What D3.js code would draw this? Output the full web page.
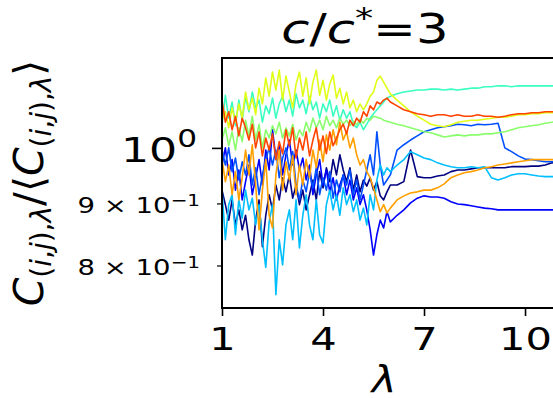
<!DOCTYPE html>
<html><head><meta charset="utf-8">
<script src="https://cdn.jsdelivr.net/npm/d3@7"></script>
<style>body{margin:0;background:#fff}svg{display:block}</style>
</head><body>
<svg id="c" width="553" height="398"></svg>
<script>
// ---- data ----
const lambda = [1.0,1.1,1.2,1.3,1.4,1.5,1.6,1.7,1.8,1.9,2.0,2.1,2.2,2.3,2.4,2.5,2.6,2.7,2.8,2.9,3.0,3.1,3.2,3.3,3.4,3.5,3.6,3.7,3.8,3.9,4.0,4.1,4.2,4.3,4.4,4.5,4.6,4.7,4.8,4.9,5.0,5.1,5.2,5.3,5.4,5.5,5.6,5.7,5.8,5.9,6.0,
  6.2,6.4,6.6,6.8,7.0,7.2,7.4,7.6,7.8,8.0,8.2,8.4,8.6,8.8,9.0,9.2,9.4,9.6,9.8,10.0,10.2,10.4,10.6,10.8,11.0];

const navy = [0.923,0.898,0.872,0.906,0.864,0.889,0.856,0.880,0.840,0.816,
  0.872,0.906,0.829,0.880,0.915,0.889,0.932,0.906,0.945,0.920,
  0.950,0.909,0.932,0.898,0.923,0.889,0.915,0.941,0.906,0.956,
  0.927,0.963,0.938,0.978,0.950,0.987,0.959,0.938,0.963,0.923,
  0.950,0.920,0.941,0.930,0.945,0.923,0.938,0.913,0.906,0.920,
  0.932,
  0.932,0.938,0.996,0.947,0.945,0.945,0.948,0.950,0.956,0.959,0.959,0.961,0.963,0.963,0.963,0.963,0.963,0.965,0.965,0.965,0.966,0.966,0.968,0.972,0.974];

const blue = [0.968,1.000,0.950,0.978,0.923,0.959,0.906,0.938,0.968,0.915,
  0.945,0.978,0.932,0.996,0.959,1.035,0.981,1.006,0.950,0.987,
  1.015,0.968,0.996,0.959,0.981,0.941,0.968,0.915,0.950,0.978,
  0.932,0.959,0.920,0.945,0.906,0.932,0.950,0.915,0.941,0.906,
  0.927,0.898,0.915,0.889,0.856,0.816,0.848,0.872,0.859,0.886,
  0.869,
  0.880,0.889,0.901,0.909,0.913,0.911,0.911,0.909,0.903,0.899,0.898,0.896,0.894,0.892,0.891,0.889,0.889,0.889,0.889,0.889,0.889,0.889,0.889,0.889,0.889];

const medBlue = [0.996,0.968,1.000,0.956,0.981,0.941,0.974,0.950,0.987,0.932,
  0.963,0.915,0.950,0.978,1.000,0.968,0.996,0.945,0.981,1.000,
  0.959,0.993,0.932,0.906,0.941,0.920,0.956,0.927,0.963,0.915,
  0.945,0.923,0.956,0.909,0.941,0.920,0.950,0.932,0.959,0.915,
  0.941,0.906,0.932,0.959,0.987,0.950,1.031,0.968,0.932,0.941,
  0.950,
  0.996,1.006,1.015,1.023,1.031,1.035,1.039,1.041,1.043,1.046,1.045,1.043,1.046,1.045,1.046,1.048,1.000,0.993,0.985,0.979,0.978,0.976,0.974,0.974,0.974];

const skyBlue = [0.923,0.840,0.898,0.915,0.848,0.906,0.875,0.923,0.889,0.909,
  0.864,0.898,0.840,0.797,0.869,0.898,0.757,0.840,0.801,0.864,
  0.889,0.840,0.906,0.827,0.880,0.915,0.864,0.840,0.906,0.848,
  0.835,0.898,0.923,0.889,0.915,0.880,0.927,0.898,0.915,0.886,
  0.906,0.872,0.892,0.864,0.915,0.889,0.941,0.968,0.950,0.963,
  0.956,
  0.968,0.978,0.993,0.987,0.981,0.978,0.972,0.968,0.965,0.963,0.963,0.965,0.963,0.965,0.945,0.941,0.945,0.950,0.952,0.952,0.950,0.948,0.947,0.947,0.947];

const aqua = [1.045,1.105,1.058,1.091,1.043,1.095,1.054,1.101,1.071,1.112,
  1.079,1.095,1.050,1.083,1.067,1.099,1.058,1.087,1.103,1.071,
  1.095,1.062,1.108,1.079,1.095,1.067,1.103,1.075,1.091,1.058,
  1.087,1.071,1.095,1.062,1.083,1.054,1.075,1.058,1.071,1.046,
  1.039,1.050,1.035,1.046,1.058,1.067,1.075,1.083,1.091,1.099,
  1.103,
  1.108,1.112,1.114,1.116,1.116,1.118,1.118,1.116,1.118,1.116,1.118,1.120,1.120,1.123,1.123,1.125,1.125,1.123,1.125,1.125,1.125,1.125,1.125,1.125,1.125];

const lightGreen = [1.015,1.039,1.004,1.031,0.996,1.039,1.012,1.054,1.023,1.062,
  1.015,1.046,1.000,1.035,1.019,1.043,1.027,1.050,1.019,1.039,
  1.023,1.046,1.015,1.035,1.023,1.050,1.031,1.058,1.039,1.054,
  1.035,1.062,1.043,1.054,1.039,1.058,1.046,1.054,1.043,1.052,
  1.045,1.056,1.048,1.058,1.054,1.062,1.060,1.058,1.054,1.052,
  1.050,
  1.046,1.043,1.039,1.035,1.031,1.029,1.025,1.021,1.023,1.025,1.023,1.025,1.025,1.027,1.027,1.029,1.031,1.035,1.039,1.041,1.043,1.045,1.048,1.050,1.052];

const yellow = [1.054,1.071,1.039,1.079,1.050,1.087,1.058,1.112,1.075,1.099,
  1.065,1.120,1.087,1.142,1.103,1.155,1.116,1.159,1.095,1.146,
  1.112,1.079,1.129,1.155,1.103,1.142,1.087,1.133,1.159,1.105,
  1.137,1.095,1.129,1.148,1.099,1.120,1.087,1.112,1.079,1.095,
  1.071,1.087,1.075,1.087,1.103,1.112,1.137,1.146,1.133,1.120,
  1.108,
  1.095,1.083,1.071,1.062,1.054,1.046,1.043,1.041,1.045,1.050,1.052,1.054,1.054,1.056,1.058,1.060,1.060,1.062,1.065,1.065,1.067,1.067,1.069,1.069,1.069];

const orange = [0.978,0.938,0.968,0.915,0.956,0.906,0.945,0.996,0.950,1.006,
  0.932,0.856,0.923,0.978,0.880,0.859,0.950,0.996,0.923,0.974,
  0.941,0.985,0.915,0.968,0.932,0.978,0.945,0.996,0.963,1.015,
  0.974,1.025,0.996,1.035,1.006,1.050,1.015,1.031,1.000,1.019,
  0.987,0.968,0.978,0.956,0.945,0.927,0.906,0.886,0.898,0.884,
  0.892,
  0.906,0.913,0.918,0.920,0.923,0.923,0.927,0.934,0.945,0.950,0.954,0.956,0.959,0.963,0.965,0.968,0.970,0.972,0.974,0.976,0.978,0.978,0.978,0.978,0.978];

const red = [1.095,1.050,1.071,1.035,1.062,1.023,1.058,1.039,1.015,1.046,
  1.000,1.031,0.985,1.019,0.996,1.027,0.978,1.012,0.989,1.035,
  1.004,1.039,0.981,1.019,0.996,1.031,0.985,1.015,1.039,0.996,
  1.023,0.989,1.031,1.004,1.019,1.035,1.046,1.027,1.054,1.043,
  1.058,1.050,1.071,1.062,1.083,1.075,1.091,1.087,1.095,1.099,
  1.091,
  1.083,1.075,1.071,1.067,1.065,1.062,1.065,1.065,1.062,1.065,1.062,1.062,1.065,1.062,1.062,1.060,1.062,1.065,1.067,1.067,1.069,1.069,1.071,1.071,1.071];

const seriesValues = [navy, blue, medBlue, skyBlue, aqua, lightGreen, yellow, orange, red];
const seriesColors = ["#000080","#0000ff","#0050ff","#00bfff","#3affc0","#8aff6c","#e0ff18","#ffa000","#ff4400"];
const xTicks = [1, 4, 7, 10];
const yMajorTicks = [1];
const yMinorTicks = [0.8, 0.9];

// ---- layout ----
const svg = d3.select("#c");
const L = 222, T = 58, B = 308, R = 558.7;
const x = d3.scaleLinear().domain([1, 11]).range([L, R]);
const y = d3.scaleLog().domain([0.738, 1.186]).range([B, T]);
const FONT = "DejaVu Sans, sans-serif";
const SX = 1.3; // horizontal stretch of the reference's horizontal texts

svg.append("defs").append("clipPath").attr("id", "clip")
  .append("rect").attr("x", L).attr("y", T).attr("width", R - L).attr("height", B - T);

const line = d3.line().x((d, i) => x(lambda[i])).y(d => y(d));
const gl = svg.append("g").attr("clip-path", "url(#clip)");
seriesValues.forEach((vals, k) => {
  gl.append("path").attr("d", line(vals)).attr("fill", "none")
    .attr("stroke", seriesColors[k]).attr("stroke-width", 1.6)
    .attr("stroke-linejoin", "round");
});

// spines
const sp = svg.append("g").attr("stroke", "#000").attr("stroke-width", 2).attr("fill", "none");
sp.append("line").attr("x1", L).attr("x2", L).attr("y1", T - 1).attr("y2", B + 1);
sp.append("line").attr("x1", L).attr("x2", R).attr("y1", T).attr("y2", T);
sp.append("line").attr("x1", L - 1).attr("x2", R).attr("y1", B).attr("y2", B);
sp.append("line").attr("x1", R).attr("x2", R).attr("y1", T).attr("y2", B);

// x axis
const xa = svg.append("g").attr("transform", `translate(0,${B})`)
  .call(d3.axisBottom(x).tickValues(xTicks).tickSize(8).tickSizeOuter(0).tickFormat(d3.format("d")));
xa.select(".domain").remove();
xa.selectAll(".tick line").attr("stroke-width", 1.6);
xa.selectAll(".tick text").attr("y", null).attr("dy", null)
  .attr("transform", `translate(0,42) scale(${SX},1)`)
  .attr("font-family", FONT).attr("font-size", 32).attr("fill", "#000");

// y axis major
const ya = svg.append("g").attr("transform", `translate(${L},0)`)
  .call(d3.axisLeft(y).tickValues(yMajorTicks).tickSize(10).tickSizeOuter(0).tickFormat(() => ""));
ya.select(".domain").remove();
ya.selectAll(".tick line").attr("stroke-width", 1.6);
ya.selectAll(".tick").each(function(d) {
  const t = d3.select(this).select("text").text(null)
    .attr("x", null).attr("y", null).attr("dy", null).attr("text-anchor", "end")
    .attr("transform", `translate(-25,14) scale(${SX},1)`)
    .attr("font-family", FONT).attr("font-size", 34).attr("fill", "#000");
  const e = Math.round(Math.log10(d));
  t.append("tspan").text("10");
  t.append("tspan").attr("dy", -15).attr("font-size", 24).text(String(e).replace("-", "\u2212"));
});

// y axis minor
const ym = svg.append("g").attr("transform", `translate(${L},0)`)
  .call(d3.axisLeft(y).tickValues(yMinorTicks).tickSize(5).tickSizeOuter(0).tickFormat(() => ""));
ym.select(".domain").remove();
ym.selectAll(".tick line").attr("stroke-width", 1.2);
ym.selectAll(".tick").each(function(d) {
  const e = Math.floor(Math.log10(d));
  const m = Math.round(d / Math.pow(10, e));
  const t = d3.select(this).select("text").text(null)
    .attr("x", null).attr("y", null).attr("dy", null).attr("text-anchor", "end")
    .attr("transform", `translate(-22,9) scale(1.25,1)`)
    .attr("font-family", FONT).attr("font-size", 22).attr("fill", "#000");
  t.append("tspan").text(m + " \u00d7 10");
  t.append("tspan").attr("dy", -7).attr("font-size", 16).text(String(e).replace("-", "\u2212"));
});

// title
const title = svg.append("text").attr("transform", "translate(365,43) scale(1.25,1)").attr("text-anchor", "middle")
  .attr("font-family", FONT).attr("font-size", 41).attr("fill", "#000");
title.append("tspan").attr("font-style", "italic").text("c");
title.append("tspan").text("/");
title.append("tspan").attr("font-style", "italic").text("c");
title.append("tspan").attr("dy", -15).attr("font-size", 29).text("*");
title.append("tspan").attr("dy", 15).text("=3");

// x label
svg.append("text").attr("transform", "translate(384,392) scale(1.1,1)").attr("text-anchor", "middle")
  .attr("font-family", FONT).attr("font-size", 38).attr("font-style", "italic").attr("fill", "#000").text("λ");

// y label
const yl = svg.append("text").attr("transform", "translate(43,183) rotate(-90)")
  .attr("text-anchor", "middle").attr("font-family", FONT).attr("font-size", 41).attr("fill", "#000");
function sub(t) {
  t.append("tspan").attr("dy", 8).attr("font-size", 28).text("(");
  t.append("tspan").attr("font-size", 28).attr("font-style", "italic").text("i");
  t.append("tspan").attr("font-size", 28).text(",");
  t.append("tspan").attr("font-size", 28).attr("font-style", "italic").text("j");
  t.append("tspan").attr("font-size", 28).text("),");
  t.append("tspan").attr("font-size", 28).attr("font-style", "italic").text("λ");
}
yl.append("tspan").attr("font-style", "italic").text("C");
sub(yl);
yl.append("tspan").attr("dy", -8).text("/\u27e8");
yl.append("tspan").attr("font-style", "italic").text("C");
sub(yl);
yl.append("tspan").attr("dy", -8).text("\u27e9");
</script>
</body></html>
